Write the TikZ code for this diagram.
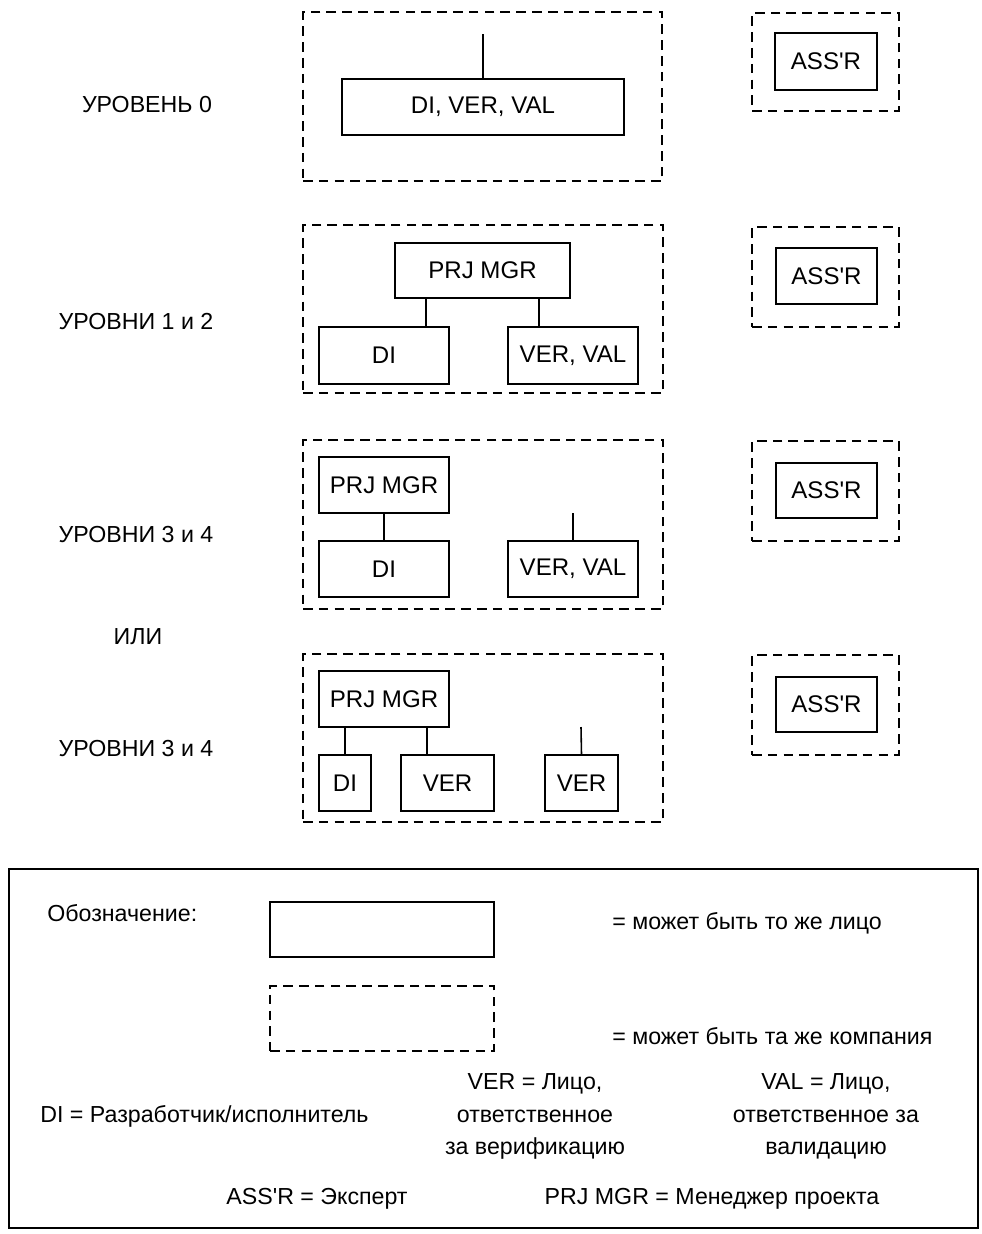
\documentclass[tikz,border=0pt]{standalone}
\usepackage{fontspec}
\setmainfont{Liberation Sans}[Ligatures=TeXOff]
\newdimen\px \px=0.02cm
\tikzset{
  txt/.style={inner sep=0pt, font=\fontsize{13.2}{18.4}\selectfont},
  box/.style={inner sep=0pt, font=\fontsize{13.7}{18.4}\selectfont, draw, line width=0.9pt, rectangle},
  dbox/.style={draw, line width=0.9pt, dash pattern=on 5.5pt off 3.5pt, rectangle, inner sep=0pt},
  conn/.style={line width=0.9pt},
}
\newcommand{\bx}[7][box]{% style, name, cx, cy, w, h, text
  \node[#1, minimum width=#5\px, minimum height=#6\px] (#2) at (#3,#4) {#7};}
\begin{document}
\begin{tikzpicture}[x=0.02cm, y=-0.02cm]
\useasboundingbox (0,0) rectangle (982,1234);

% ---------- Level 0 ----------
\node[txt] (l0) at (147,105) {УРОВЕНЬ 0};
\bx[dbox]{c0}{482.5}{96.5}{359}{169}{}
\bx{dvv}{483}{107}{282}{56}{DI, VER, VAL}
\coordinate (t0) at (483,34);
\draw[conn] (t0) -- (dvv.north);
\bx[dbox]{a0d}{825.5}{62}{147}{98}{}
\bx{a0}{826}{61.5}{102}{57}{ASS'R}

% ---------- Levels 1 and 2 ----------
\node[txt] (l1) at (136,322) {УРОВНИ 1 и 2};
\bx[dbox]{c1}{483}{309}{360}{168}{}
\bx{prj1}{482.5}{270.5}{175}{55}{PRJ MGR}
\bx{di1}{384}{355.5}{130}{57}{DI}
\bx{vv1}{573}{355.5}{130}{57}{VER, VAL}
\coordinate (x1a) at (426,0);
\coordinate (x1b) at (539,0);
\draw[conn] (prj1.south -| x1a) -- (di1.north -| x1a);
\draw[conn] (prj1.south -| x1b) -- (vv1.north -| x1b);
\bx[dbox]{a1d}{825.5}{277}{147}{100}{}
\bx{a1}{826.5}{276}{101}{56}{ASS'R}

% ---------- Levels 3 and 4 ----------
\node[txt] (l3) at (136,535) {УРОВНИ 3 и 4};
\bx[dbox]{c3}{483}{524.5}{360}{169}{}
\bx{prj3}{384}{485}{130}{56}{PRJ MGR}
\bx{di3}{384}{569}{130}{56}{DI}
\bx{vv3}{573}{569}{130}{56}{VER, VAL}
\draw[conn] (prj3.south) -- (di3.north);
\coordinate (f3) at (573,513);
\draw[conn] (f3) -- (vv3.north);
\bx[dbox]{a3d}{825.5}{491}{147}{100}{}
\bx{a3}{826.5}{490.5}{101}{55}{ASS'R}

\node[txt] (ili) at (138,637) {ИЛИ};

% ---------- Levels 3 and 4 (variant) ----------
\node[txt] (l4) at (136,749) {УРОВНИ 3 и 4};
\bx[dbox]{c4}{483}{738}{360}{168}{}
\bx{prj4}{384}{699}{130}{56}{PRJ MGR}
\bx{di4}{345}{783}{52}{56}{DI}
\bx{ver4}{447.5}{783}{93}{56}{VER}
\bx{ver4b}{581.5}{783}{73}{56}{VER}
\draw[conn] (prj4.south -| di4.north) -- (di4.north);
\coordinate (x4) at (427,0);
\draw[conn] (prj4.south -| x4) -- (ver4.north -| x4);
\coordinate (f4) at (581,727);
\draw[conn] (f4) -- (ver4b.north);
\bx[dbox]{a4d}{825.5}{705}{147}{100}{}
\bx{a4}{826.5}{704.5}{101}{55}{ASS'R}

% ---------- Legend ----------
\node[draw, line width=1.6pt, rectangle, minimum width=969\px, minimum height=359\px, inner sep=0pt] (leg) at (493.5,1048.5) {};
\node[txt, anchor=west] (obz) at (47,913) {Обозначение:};
\bx{ls}{382}{929.5}{224}{55}{}
\node[txt, anchor=west] (ls-t) at (612,923) {= может быть то же лицо};
\bx[dbox]{ld}{382}{1018.5}{224}{65}{}
\node[txt, anchor=west] (ld-t) at (612,1036) {= может быть та же компания};
\node[txt, anchor=west] (di-t) at (40,1116) {DI = Разработчик/исполнитель};
\node[txt, align=center] (ver-t) at (535,1116.5) {VER = Лицо,\\ответственное\\за верификацию};
\node[txt, align=center] (val-t) at (826,1116.5) {VAL = Лицо,\\ответственное за\\валидацию};
\node[txt] (ass-t) at (317,1199) {ASS'R = Эксперт};
\node[txt] (prj-t) at (712,1199) {PRJ MGR = Менеджер проекта};
\end{tikzpicture}
\end{document}
